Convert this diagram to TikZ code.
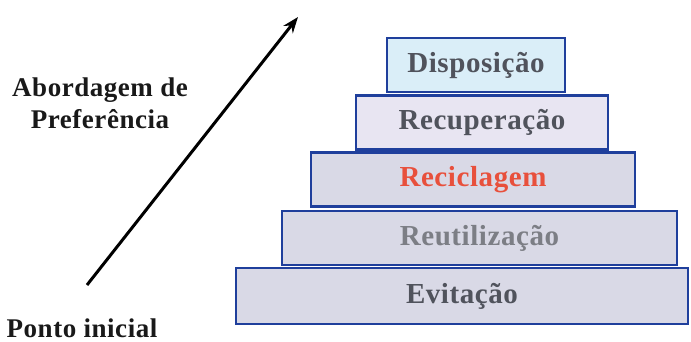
\documentclass[tikz,border=0pt]{standalone}
\usepackage{fontspec}
\setmainfont{Liberation Serif}
\newfontfamily\boxfont{Liberation Serif}[LetterSpace=2]
\newfontfamily\sidefont{Liberation Serif}[LetterSpace=2]
\usetikzlibrary{positioning, arrows.meta}
\definecolor{myblue}{HTML}{1F3F9C}
\definecolor{mycyan}{HTML}{DAEEF8}
\definecolor{mylilac}{HTML}{E8E5F2}
\definecolor{mygrid}{HTML}{D9D9E6}
\definecolor{mygray}{HTML}{50535C}
\definecolor{myred}{HTML}{E8503C}
\tikzset{
	levelnode/.style={
			rectangle,
			draw=myblue,
			line width=2.5pt,
			fill=mygrid,
			minimum height=54pt,
			inner sep=0pt,
			font=\boxfont\bfseries\fontsize{29}{32}\selectfont,
			text=mygray
		},
	sidetext/.style={
			align=center,
			font=\sidefont\bfseries\fontsize{27}{32}\selectfont,
			text=black!90
		}
}

\begin{document}
\begin{tikzpicture}[x=1pt,y=-1pt]

              \fill[white] (0,0) rectangle (691,342);
              \useasboundingbox (0,0) rectangle (691,342);

              % the levels, top to bottom
              \node[levelnode, fill=mycyan, minimum width=178pt] (disp) at (476,65) {Disposição};
              \node[levelnode, fill=mylilac, minimum width=252pt] (recup) at (482,122.5) {Recuperação};
              \node[levelnode, minimum width=324pt, text=myred] (recic) at (473,179.5) {Reciclagem};
              \node[levelnode, minimum width=395pt, text=mygray!75] (reutil) at (479.5,238) {Reutilização};
              \node[levelnode, minimum width=452pt, minimum height=56pt] (evit) at (462,296) {Evitação};

              \node[sidetext] (pref) at (100,103) {Abordagem de\\Preferência};
              \node[sidetext, anchor=base] (ponto) at (82,337) {Ponto inicial};

              \coordinate (start) at (87,285);
              \coordinate (peak) at (298,17);
              \draw[line width=3pt, -{Stealth[length=16pt,width=12pt]}] (start) -- (peak);
            \end{tikzpicture}
\end{document}
